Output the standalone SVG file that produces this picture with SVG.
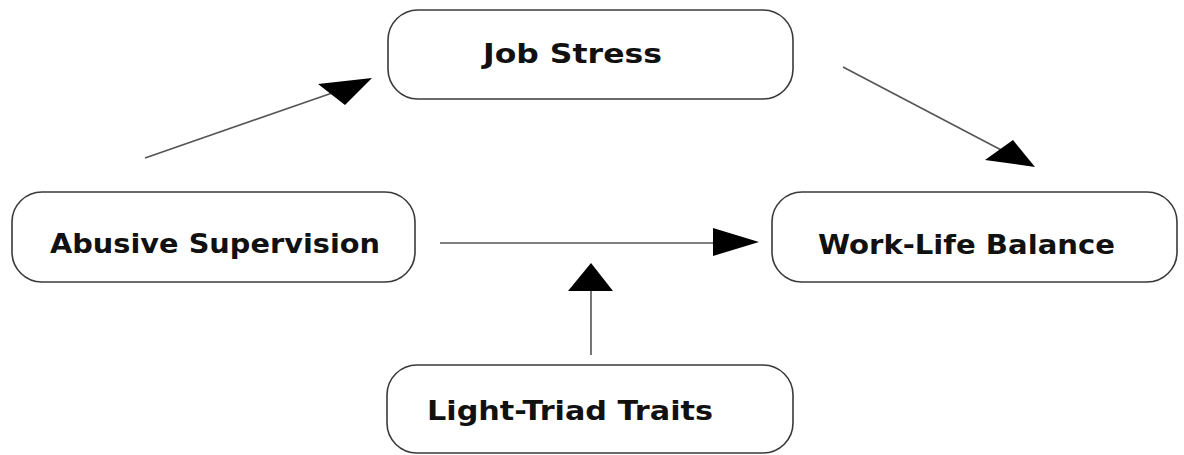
<svg xmlns="http://www.w3.org/2000/svg" width="1184" height="455" viewBox="0 0 1184 455">
<style>
.box{fill:#fff;stroke:#3a3a3a;stroke-width:1.6}
.lbl{font-family:"DejaVu Sans","Liberation Sans",sans-serif;font-weight:bold;font-size:27px;fill:#111}
.ln{stroke:#555;stroke-width:1.6;fill:none}
.hd{fill:#000}
</style>
<rect width="1184" height="455" fill="#fff"/>
<g id="job-stress">
<rect class="box" x="388" y="10" width="405" height="89" rx="30"/>
<text class="lbl" x="483" y="63" textLength="179" lengthAdjust="spacingAndGlyphs">Job Stress</text>
</g>
<g id="abusive-supervision">
<rect class="box" x="12" y="192" width="403" height="90" rx="30"/>
<text class="lbl" x="50" y="253" textLength="330" lengthAdjust="spacingAndGlyphs">Abusive Supervision</text>
</g>
<g id="work-life-balance">
<rect class="box" x="772" y="192" width="405" height="90" rx="30"/>
<text class="lbl" x="818" y="254" textLength="297" lengthAdjust="spacingAndGlyphs">Work-Life Balance</text>
</g>
<g id="light-triad-traits">
<rect class="box" x="387" y="365" width="406" height="88" rx="30"/>
<text class="lbl" x="427" y="420" textLength="286" lengthAdjust="spacingAndGlyphs">Light-Triad Traits</text>
</g>
<g id="connectors">
<line class="ln" x1="145" y1="158" x2="335" y2="92"/>
<polygon class="hd" points="372,78 318,84 345,105"/>
<line class="ln" x1="843" y1="67" x2="1005" y2="152"/>
<polygon class="hd" points="1035,167 985,160 1013,140"/>
<line class="ln" x1="440" y1="243" x2="715" y2="243"/>
<polygon class="hd" points="759,242 713,228 713,256"/>
<line class="ln" x1="591" y1="355" x2="591" y2="290"/>
<polygon class="hd" points="591,263 568,291 613,291"/>
</g>
</svg>
